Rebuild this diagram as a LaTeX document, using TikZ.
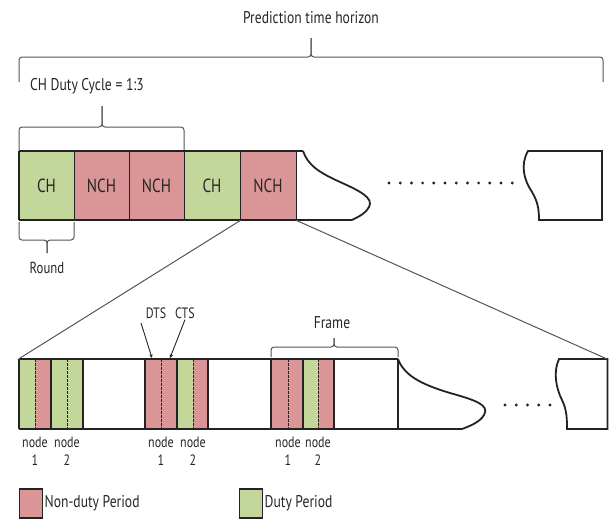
\documentclass[tikz,border=0pt]{standalone}
\usepackage{fontspec}
\setmainfont{PT Sans}[FakeStretch=0.8]
\usetikzlibrary{arrows.meta,calc}
\definecolor{dgreen}{RGB}{196,215,155}
\definecolor{dpink}{RGB}{218,150,150}
\definecolor{txt}{RGB}{38,38,38}
\definecolor{linec}{RGB}{35,35,35}
\definecolor{grayl}{RGB}{85,85,85}
\newcommand\fsz[1]{\fontsize{#1}{#1}\selectfont}
\begin{document}
\begin{tikzpicture}[x=1pt,y=-1pt,
  cellt/.style={draw=linec, line width=0.8pt, inner sep=0pt, minimum height=69pt, text=txt, font=\fsz{19}},
  celll/.style={inner sep=0pt, minimum height=70pt},
  thickl/.style={draw=linec, line width=1.8pt},
  midl/.style={draw=linec, line width=1.2pt},
  dashl/.style={draw=linec, line width=0.7pt, dash pattern=on 2.5pt off 1.5pt},
  brace/.style={draw=grayl, line width=1pt, rounded corners=3pt},
  zoomline/.style={draw=grayl, line width=1pt},
  lbl/.style={text=txt, inner sep=1pt},
  nodelbl/.style={text=txt, align=center, inner sep=0pt, font=\fontsize{15}{18}\selectfont},
  arr/.style={draw=linec, line width=0.9pt, -{Stealth[length=4pt,width=3.5pt]}},
  dotc/.style={fill=linec}
]
\useasboundingbox (0,0) rectangle (610,522);

% ---------- Prediction time horizon brace ----------
\node[lbl, font=\fsz{17}] (title) at (311,18) {Prediction time horizon};
\coordinate (ptip) at (311,38);
\draw[brace] (19,82) -- (19,57) -- (311,57) -- (ptip);
\draw[brace] (603,82) -- (603,57) -- (311,57) -- (ptip);

% ---------- CH duty cycle brace ----------
\node[lbl, font=\fsz{17}] (duty) at (87,86) {CH Duty Cycle = 1:3};
\coordinate (dtip) at (102,106);
\draw[brace] (19,150) -- (19,127) -- (102,127) -- (dtip);
\draw[brace] (184,150) -- (184,127) -- (102,127) -- (dtip);

% ---------- top strip ----------
\node[cellt, fill=dgreen, minimum width=55pt] (c1) at (46.5,185.5) {CH};
\node[cellt, fill=dpink,  minimum width=55pt] (c2) at (101.5,185.5) {NCH};
\node[cellt, fill=dpink,  minimum width=55pt] (c3) at (156.5,185.5) {NCH};
\node[cellt, fill=dgreen, minimum width=56pt] (c4) at (212,185.5) {CH};
\node[cellt, fill=dpink,  minimum width=56pt] (c5) at (268,185.5) {NCH};
\draw[thickl] (19,151) -- (303,151);
\draw[thickl] (19,220) -- (352,220);
\draw[thickl] (19,151) -- (19,220);
\draw[thickl] (303,151) .. controls (308,165) and (318,172) .. (340,182)
   .. controls (360,191) and (374,198) .. (369,207)
   .. controls (366,213) and (360,216) .. (352,220);
\foreach \i in {0,...,11} \fill[dotc] (389+\i*11.2,183) circle (1.6);
\draw[thickl] (602,151) -- (528,151) .. controls (520,165) and (524,180) .. (532,192)
   .. controls (538,202) and (539,210) .. (539,220) -- (602,220) -- cycle;

% ---------- Round brace ----------
\coordinate (rtip) at (47,253);
\draw[brace] (19,222) -- (19,240) -- (47,240) -- (rtip);
\draw[brace] (74,222) -- (74,240) -- (47,240) -- (rtip);
\node[lbl, font=\fsz{16}] (round) at (47,268) {Round};

% ---------- lower strip ----------
\node[celll, fill=dgreen, minimum width=16pt] (l1) at (27,394) {};
\node[celll, fill=dpink,  minimum width=16pt] (l2) at (43,394) {};
\node[celll, fill=dgreen, minimum width=16pt] (l3) at (59,394) {};
\node[celll, fill=dgreen, minimum width=16pt] (l4) at (75,394) {};
\node[celll, fill=dpink,  minimum width=16pt] (l5) at (153,394) {};
\node[celll, fill=dpink,  minimum width=16pt] (l6) at (169,394) {};
\node[celll, fill=dgreen, minimum width=16pt] (l7) at (185,394) {};
\node[celll, fill=dpink,  minimum width=15pt] (l8) at (200.5,394) {};
\node[celll, fill=dpink,  minimum width=17pt] (l9) at (279.5,394) {};
\node[celll, fill=dpink,  minimum width=15pt] (l10) at (295.5,394) {};
\node[celll, fill=dgreen, minimum width=15pt] (l11) at (310.5,394) {};
\node[celll, fill=dpink,  minimum width=16pt] (l12) at (326,394) {};
\foreach \x in {35,67,161,193,288,318} \draw[dashl] (\x,359) -- (\x,429);
\foreach \x in {51,83,177,208,303,334} \draw[midl] (\x,359) -- (\x,429);
\foreach \x in {19,145,271,398} \draw[thickl] (\x,359) -- (\x,429);
\draw[thickl] (19,359) -- (398,359);
\draw[thickl] (19,429) -- (462,429);
\draw[thickl] (398,359) .. controls (404,375) and (420,384) .. (450,393)
   .. controls (475,400) and (490,405) .. (484,415)
   .. controls (480,422) and (470,426) .. (462,429);
\foreach \i in {0,...,4} \fill[dotc] (505+\i*11.25,405) circle (1.6);
\coordinate (lr) at (607,359);
\draw[thickl] (607.5,359) -- (559,359) .. controls (553,372) and (556,388) .. (562,400)
   .. controls (567,410) and (567,420) .. (567,429) -- (607.5,429) -- cycle;

% ---------- zoom lines ----------
\draw[zoomline] (c4.south east) -- (l1.north west);
\draw[zoomline] (c5.south east) -- (lr);

% ---------- DTS / CTS ----------
\node[lbl, font=\fsz{15}] (dts) at (156,313) {DTS};
\node[lbl, font=\fsz{15}] (cts) at (185,313) {CTS};
\coordinate (dtsp) at (152,358);
\coordinate (ctsp) at (170,358);
\draw[arr] (141,323) -- (dtsp);
\draw[arr] (cts.south) -- (ctsp);

% ---------- Frame brace ----------
\node[lbl, font=\fsz{17}] (frame) at (332,323) {Frame};
\coordinate (ftip) at (334,338);
\draw[brace] (271,357) -- (271,347) -- (334,347) -- (ftip);
\draw[brace] (398,357) -- (398,347) -- (334,347) -- (ftip);

% ---------- node labels ----------
\node[nodelbl] (n11) at (35,451) {node\\1};
\node[nodelbl] (n12) at (67,451) {node\\2};
\node[nodelbl] (n21) at (161,451) {node\\1};
\node[nodelbl] (n22) at (193,451) {node\\2};
\node[nodelbl] (n31) at (288,451) {node\\1};
\node[nodelbl] (n32) at (318,451) {node\\2};

% ---------- legend ----------
\node[draw=linec, line width=1.2pt, fill=dpink, minimum width=23pt, minimum height=29pt, inner sep=0pt] (legp) at (31,503.5) {};
\node[lbl, font=\fsz{17}, anchor=west] (legpt) at (43.5,503) {Non-duty Period};
\node[draw=linec, line width=1.2pt, fill=dgreen, minimum width=23pt, minimum height=29pt, inner sep=0pt] (legg) at (251,503.5) {};
\node[lbl, font=\fsz{17}, anchor=west] (leggt) at (263.5,503) {Duty Period};
\end{tikzpicture}
\end{document}
